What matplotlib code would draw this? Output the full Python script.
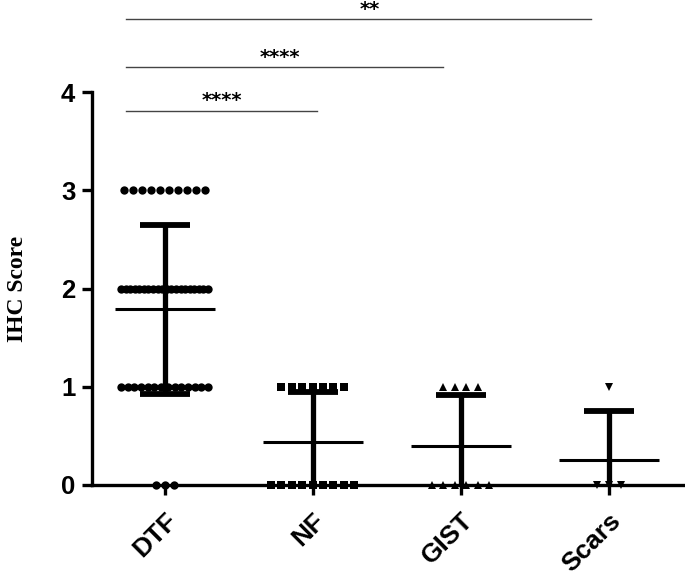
import numpy as np
import matplotlib
matplotlib.use("Agg")
import matplotlib.pyplot as plt
from matplotlib.transforms import ScaledTranslation

# ---- data ----
groups = ["DTF", "NF", "GIST", "Scars"]
# score -> count for each group
dtf_counts = {3: 10, 2: 20, 1: 14, 0: 3}
nf_counts = {1: 7, 0: 9}
gist_counts = {1: 4, 0: 6}
scars_counts = {1: 1, 0: 3}
all_counts = [dtf_counts, nf_counts, gist_counts, scars_counts]
markers = ["o", "s", "^", "v"]

sig_pairs = [(0, 1), (0, 2), (0, 3)]
sig_labels = ["****", "****", "**"]

# ---- figure ----
W, H = 685, 575
fig = plt.figure(figsize=(W / 100, H / 100), dpi=100)
px_per_unit_x = 148.0
px_per_unit_y = 98.25
xlim = (-0.49, 3.50)
ax_left = 92 / W
ax_w = (xlim[1] - xlim[0]) * px_per_unit_x / W
ax_bottom = 1 - 485 / H
ax_h = (485 - 92) / H
ax = fig.add_axes([ax_left, ax_bottom, ax_w, ax_h])
ax.set_xlim(*xlim)
ax.set_ylim(0, 4)

sans = "Liberation Sans"

def row_offsets(n, d_px, maxw_px):
    if n == 1:
        return np.array([0.0])
    step = min(d_px, maxw_px / (n - 1))
    return (np.arange(n) - (n - 1) / 2) * step / px_per_unit_x

marker_sizes = [6.0, 5.2, 6.2, 5.4]
spacings = [9.0, 10.4, 11.5, 12.0]

for i, (counts, mk) in enumerate(zip(all_counts, markers)):
    vals = []
    for score, n in counts.items():
        offs = row_offsets(n, spacings[i], 87)
        ax.plot(i + offs, np.full(n, score), linestyle="none", marker=mk,
                markersize=marker_sizes[i], color="black", markeredgewidth=0,
                clip_on=False, zorder=4)
        vals += [score] * n
    vals = np.array(vals, dtype=float)
    m = vals.mean()
    sd = vals.std(ddof=1)
    # mean line
    ax.plot([i - 50 / px_per_unit_x, i + 50 / px_per_unit_x], [m, m],
            color="black", lw=2.2, solid_capstyle="butt", zorder=3)
    lo = max(m - sd, 0)
    ax.plot([i, i], [lo, m + sd], color="black", lw=3.8,
            solid_capstyle="butt", zorder=3)
    ax.plot([i - 25 / px_per_unit_x, i + 25 / px_per_unit_x], [m + sd, m + sd],
            color="black", lw=4.2, solid_capstyle="butt", zorder=3)
    if m - sd > 0:
        ax.plot([i - 25 / px_per_unit_x, i + 25 / px_per_unit_x], [m - sd, m - sd],
                color="black", lw=4.2, solid_capstyle="butt", zorder=3)

# significance bars
line_y = [3.81, 4.25, 4.74]
line_end_px = [316, 442, 590]
text_x = [0.385, 0.78, 1.39]
for (a, b), lab, yy, tx, ex in zip(sig_pairs, sig_labels, line_y, text_x, line_end_px):
    ax.plot([a - 0.26, (ex - 164) / px_per_unit_x], [yy, yy], color="#444444",
            lw=1.0, clip_on=False)
    ax.text(tx, yy + 4.5 / px_per_unit_y, lab, ha="center", va="baseline",
            fontsize=14, family="DejaVu Sans", fontweight="bold", clip_on=False)

# axes style
for s in ["top", "right"]:
    ax.spines[s].set_visible(False)
for s in ["left", "bottom"]:
    ax.spines[s].set_linewidth(2.4)
ax.set_yticks([0, 1, 2, 3, 4])
ax.set_yticklabels(["0", "1", "2", "3", "4"], family=sans, fontweight="bold",
                   fontsize=18.5)
ax.set_xticks(range(len(groups)))
ax.set_xticklabels(groups, family=sans, fontweight="bold", fontsize=19,
                   rotation=45, ha="right", rotation_mode="anchor")
shift = ScaledTranslation(-5 / 100, 0, fig.dpi_scale_trans)
for lbl in ax.get_xticklabels():
    lbl.set_transform(lbl.get_transform() + shift)
ax.tick_params(axis="both", width=2.4, length=7)
ax.tick_params(axis="x", pad=10)
ax.tick_params(axis="y", pad=5)
ax.set_ylabel("IHC Score", family="Liberation Serif", fontweight="bold",
              fontsize=17, labelpad=24)

fig.savefig("out.png", dpi=100)
